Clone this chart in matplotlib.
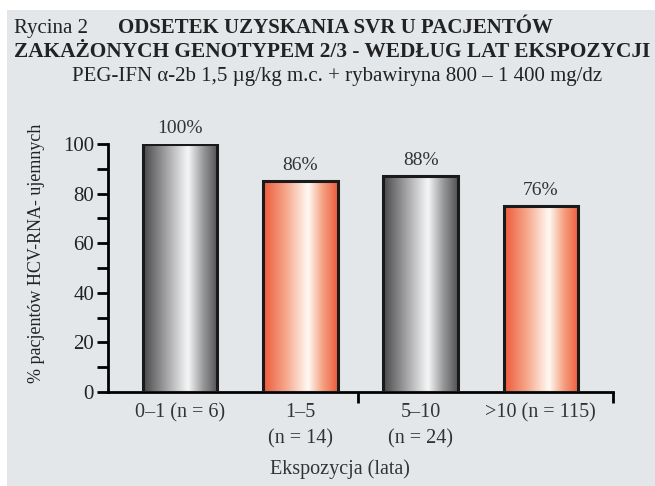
import numpy as np
import matplotlib.pyplot as plt
from matplotlib.patches import Rectangle
from matplotlib.colors import LinearSegmentedColormap

# data
categories = ["0–1 (n = 6)", "1–5\n(n = 14)", "5–10\n(n = 24)", ">10 (n = 115)"]
heights = [100, 85, 87, 75]
labels = ["100%", "86%", "88%", "76%"]
bar_kind = ["gray", "orange", "gray", "orange"]

plt.rcParams["font.family"] = ["Liberation Serif", "DejaVu Serif"]

fig = plt.figure(figsize=(6.55, 4.86), dpi=100)
fig.patch.set_facecolor("white")
# gray panel behind everything
fig.patches.append(Rectangle((7 / 655, 0), 1, 1 - 10 / 486, transform=fig.transFigure,
                             facecolor="#e3e7ea", edgecolor="none", zorder=-5))

ax = fig.add_axes([108 / 655, 1 - 392 / 486, (613 - 108) / 655, (392 - 144) / 486])
ax.set_facecolor("none")
ax.set_zorder(2)

cmaps = {
    "gray": LinearSegmentedColormap.from_list("g", ["#4a4a4c", "#a0a0a2", "#f4f6f6", "#9a9a9c", "#555557"]),
    "orange": LinearSegmentedColormap.from_list("o", ["#ee5a3a", "#f6a68a", "#fff8f2", "#f5a080", "#ee5e3e"]),
}
grad = np.concatenate([np.linspace(0, 0.5, 60), 0.5 + np.linspace(0, 0.5, 40)]).reshape(1, -1)

w = 0.62
for i, (h, kind) in enumerate(zip(heights, bar_kind)):
    ax.imshow(grad, cmap=cmaps[kind], aspect="auto", extent=(i - w / 2, i + w / 2, 0, h),
              zorder=2, interpolation="bilinear")
    ax.add_patch(Rectangle((i - w / 2, 0), w, h, facecolor="none", edgecolor="#1a1a1a",
                           linewidth=2.2, zorder=3))
    ax.text(i, h + 3, labels[i], ha="center", va="bottom", fontsize=14, color="#333333")

ax.set_xlim(-0.6, 3.6)
ax.set_ylim(0, 100)

for s in ["top", "right"]:
    ax.spines[s].set_visible(False)
ax.spines["left"].set_linewidth(2)
ax.spines["bottom"].set_linewidth(2)

ax.set_yticks([0, 20, 40, 60, 80, 100])
ax.set_yticks([10, 30, 50, 70, 90], minor=True)
ax.tick_params(axis="y", which="major", length=8, width=2, labelsize=15, pad=2, labelcolor="#222222")
ax.tick_params(axis="y", which="minor", length=8, width=2)
ax.set_xticks([1.48, 3.6])
ax.set_xticklabels([])
ax.tick_params(axis="x", length=8, width=2)

ytxt = 1 - 403 / 486
for i, c in enumerate(categories):
    xf = (108 + (i + 0.6) / 4.2 * 505) / 655
    fig.text(xf, ytxt, c, ha="center", va="top", fontsize=14.5, color="#333333", linespacing=1.5)

fig.text(340 / 655, 1 - 469 / 486, "Ekspozycja (lata)", ha="center", va="center",
         fontsize=14.5, color="#333333")
fig.text(37 / 655, 1 - 253 / 486, "% pacjentów HCV-RNA- ujemnych", rotation=90,
         ha="center", va="center", fontsize=13, color="#222222")

fig.text(14 / 655, 1 - 28 / 486, "Rycina 2", ha="left", va="center", fontsize=15, color="#222222")
fig.text(118 / 655, 1 - 28 / 486, "ODSETEK UZYSKANIA SVR U PACJENTÓW", ha="left", va="center",
         fontsize=15, fontweight="bold", color="#222222")
fig.text(14 / 655, 1 - 52 / 486, "ZAKAŻONYCH GENOTYPEM 2/3 - WEDŁUG LAT EKSPOZYCJI", ha="left",
         va="center", fontsize=15.4, fontweight="bold", color="#222222")
fig.text(337 / 655, 1 - 76 / 486, "PEG-IFN α-2b 1,5 µg/kg m.c. + rybawiryna 800 – 1 400 mg/dz",
         ha="center", va="center", fontsize=15, color="#222222")

fig.savefig("out.png", dpi=100)
